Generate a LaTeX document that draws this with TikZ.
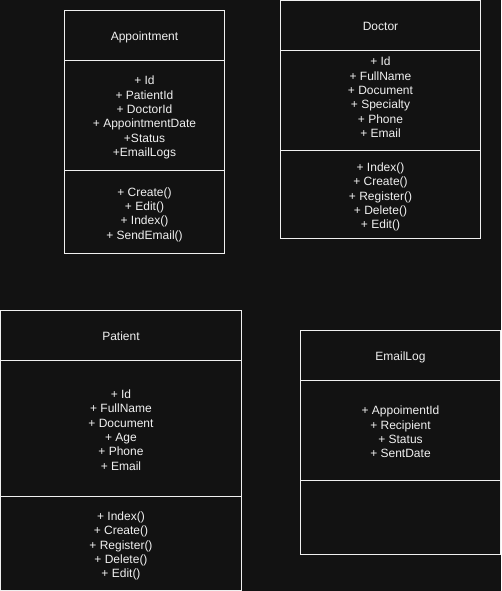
\documentclass[tikz,border=0pt]{standalone}
\usepackage{fontspec}
\setmainfont{Liberation Sans}
\definecolor{bg}{HTML}{121212}
\definecolor{fg}{HTML}{F0F0F0}
\begin{document}
\begin{tikzpicture}[x=1pt,y=-1pt,
  box/.style={draw=fg,line width=1pt,fill=bg},
  divider/.style={draw=fg,line width=1pt},
  txt/.style={text=fg,font=\fontsize{12}{14.4}\selectfont,align=center,inner sep=0pt}]
\fill[bg] (0,0) rectangle (501,591);
\useasboundingbox (0,0) rectangle (501,591);
% Appointment
\draw[box] (64.5,10.5) rectangle (224.5,253.5);
\draw[divider] (64.5,60.5) -- (224.5,60.5);
\draw[divider] (64.5,170.5) -- (224.5,170.5);
\node[txt] (apptitle) at (144.5,37.5) {Appointment};
\node[txt] (appattr) at (144.5,117.5) {+ Id\\+ PatientId\\+ DoctorId\\+ AppointmentDate\\+Status\\+EmailLogs};
\node[txt] (appmeth) at (144.5,214.5) {+ Create()\\+ Edit()\\+ Index()\\+ SendEmail()};
% Doctor
\draw[box] (280.5,0.5) rectangle (480.5,238.5);
\draw[divider] (280.5,50.5) -- (480.5,50.5);
\draw[divider] (280.5,150.5) -- (480.5,150.5);
\node[txt] (doctitle) at (380.5,26.5) {Doctor};
\node[txt] (docattr) at (380.5,97.5) {+ Id\\+ FullName\\+ Document\\+ Specialty\\+ Phone\\+ Email};
\node[txt] (docmeth) at (380.5,197) {+ Index()\\+ Create()\\+ Register()\\+ Delete()\\+ Edit()};
% Patient
\draw[box] (0.5,310.5) rectangle (241.5,590.5);
\draw[divider] (0.5,360.5) -- (241.5,360.5);
\draw[divider] (0.5,496.5) -- (241.5,496.5);
\node[txt] (pattitle) at (121,336.5) {Patient};
\node[txt] (patattr) at (121,430) {+ Id\\+ FullName\\+ Document\\+ Age\\+ Phone\\+ Email};
\node[txt] (patmeth) at (121,546) {+ Index()\\+ Create()\\+ Register()\\+ Delete()\\+ Edit()};
% EmailLog
\draw[box] (300.5,330.5) rectangle (500.5,554.5);
\draw[divider] (300.5,380.5) -- (500.5,380.5);
\draw[divider] (300.5,480.5) -- (500.5,480.5);
\node[txt] (logtitle) at (400.5,357) {EmailLog};
\node[txt] (logattr) at (400.5,432) {+ AppoimentId\\+ Recipient\\+ Status\\+ SentDate};
\end{tikzpicture}
\end{document}
